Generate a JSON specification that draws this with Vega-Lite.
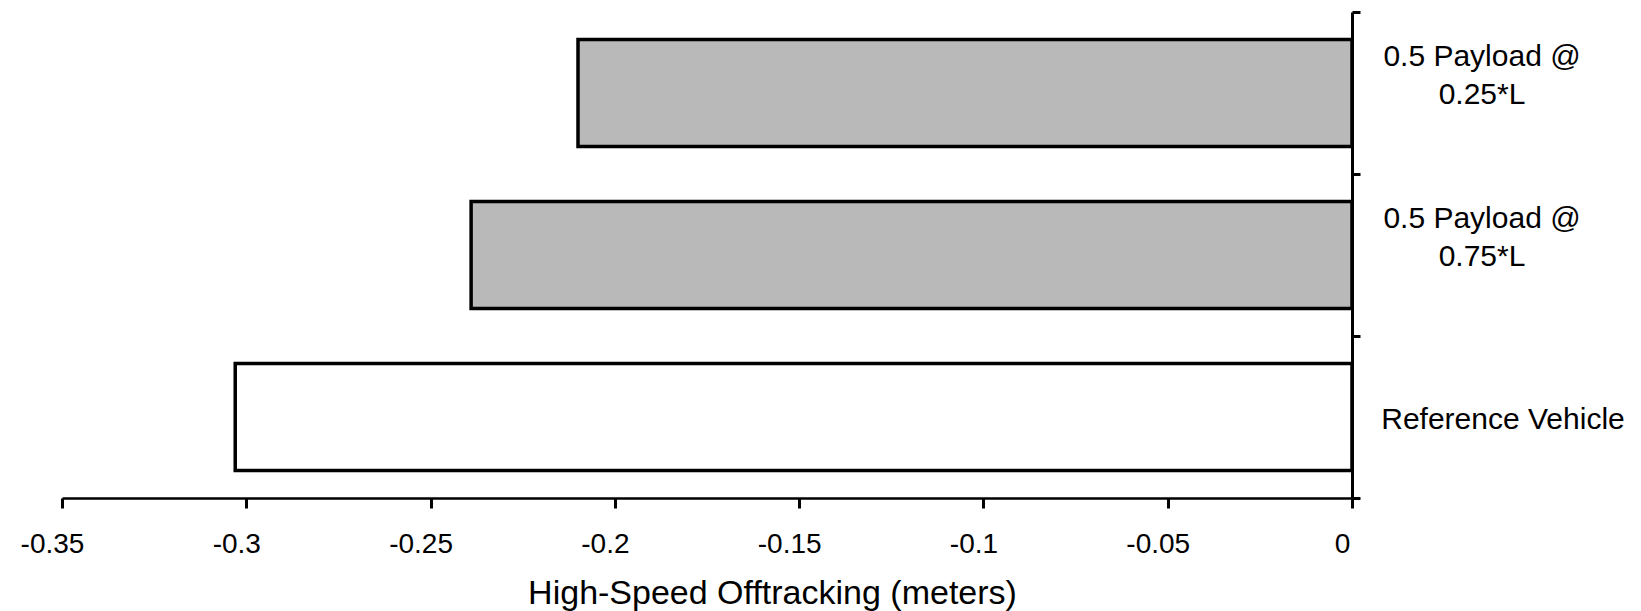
{
  "$schema": "https://vega.github.io/schema/vega-lite/v6.json",
  "width": 1290,
  "height": 486,
  "autosize": {"type": "none"},
  "padding": {"left": 62, "top": 12, "right": 289, "bottom": 113},
  "config": {
    "view": {"stroke": null},
    "font": "Liberation Sans",
    "axis": {"grid": false, "domainColor": "black", "tickColor": "black", "labelColor": "black", "titleColor": "black", "labelFont": "Liberation Sans", "titleFont": "Liberation Sans"}
  },
  "data": {
    "values": [
      {"vehicle": "0.5 Payload @ 0.25*L", "label": "0.5 Payload @|0.25*L", "kind": "payload", "offtracking": -0.210},
      {"vehicle": "0.5 Payload @ 0.75*L", "label": "0.5 Payload @|0.75*L", "kind": "payload", "offtracking": -0.239},
      {"vehicle": "Reference Vehicle", "label": "Reference Vehicle", "kind": "reference", "offtracking": -0.303}
    ]
  },
  "encoding": {
    "y": {
      "field": "vehicle",
      "type": "nominal",
      "sort": ["0.5 Payload @ 0.25*L", "0.5 Payload @ 0.75*L", "Reference Vehicle"],
      "scale": {"paddingInner": 0, "paddingOuter": 0},
      "axis": {
        "orient": "right",
        "title": null,
        "labels": false,
        "tickBand": "extent",
        "domainWidth": 3,
        "tickWidth": 3,
        "tickSize": 8
      }
    },
    "x": {
      "field": "offtracking",
      "type": "quantitative",
      "scale": {"domain": [-0.35, 0], "nice": false},
      "axis": {
        "title": "High-Speed Offtracking (meters)",
        "values": [-0.35, -0.3, -0.25, -0.2, -0.15, -0.1, -0.05, 0],
        "labelExpr": "'' + datum.value",
        "domainWidth": 2.5,
        "tickWidth": 3,
        "tickSize": 10,
        "labelFontSize": 28,
        "labelLimit": 0,
        "labelPadding": 22,
        "labelOffset": -10,
        "labelFlush": false,
        "labelOverlap": false,
        "titleFontSize": 34,
        "titleFontWeight": "normal",
        "titlePadding": 18,
        "titleX": 710,
        "titleAlign": "center"
      }
    }
  },
  "layer": [
    {
      "mark": {"type": "bar", "stroke": "black", "strokeWidth": 3.5, "height": {"band": 0.66}},
      "encoding": {
        "fill": {
          "field": "kind",
          "type": "nominal",
          "scale": {"domain": ["payload", "reference"], "range": ["#b9b9b9", "white"]},
          "legend": null
        }
      }
    },
    {
      "transform": [{"filter": "datum.kind == 'payload'"}],
      "mark": {"type": "text", "lineBreak": "|", "align": "center", "baseline": "middle", "fontSize": 30, "lineHeight": 37.5, "dx": 130, "dy": -36, "color": "black"},
      "encoding": {
        "x": {"datum": 0, "type": "quantitative"},
        "text": {"field": "label"}
      }
    },
    {
      "transform": [{"filter": "datum.kind == 'reference'"}],
      "mark": {"type": "text", "align": "center", "baseline": "middle", "fontSize": 30, "dx": 151, "dy": 3, "color": "black"},
      "encoding": {
        "x": {"datum": 0, "type": "quantitative"},
        "text": {"field": "label"}
      }
    }
  ]
}
